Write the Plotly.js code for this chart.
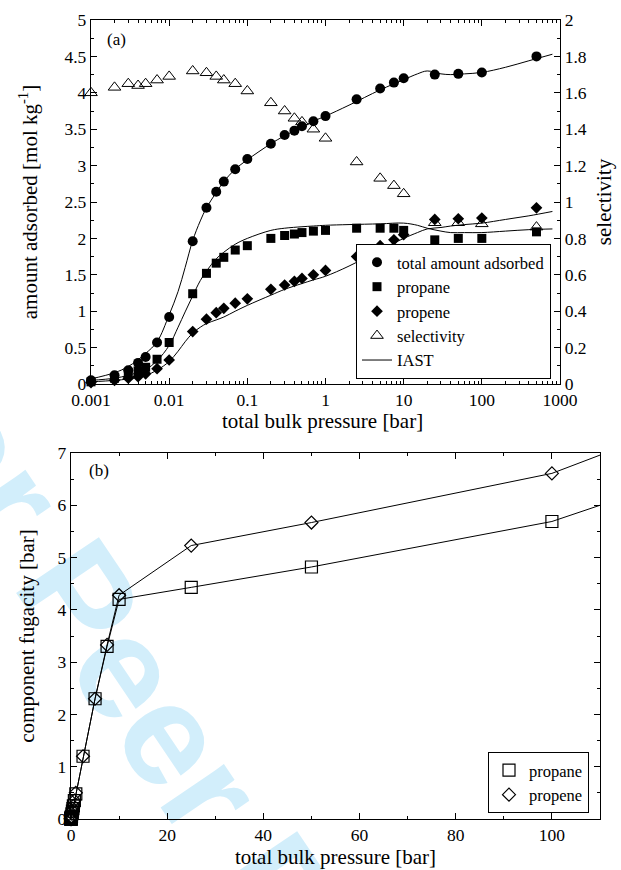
<!DOCTYPE html>
<html>
<head>
<meta charset="utf-8">
<script src="https://cdn.plot.ly/plotly-3.0.1.min.js"></script>
<style>
  html, body { margin: 0; padding: 0; background: #ffffff; }
  #wrap { position: relative; width: 621px; height: 870px; overflow: hidden; }
  #wm { position: absolute; left: 214px; top: 798px; transform: translate(-50%, -50%) rotate(56deg);
        font-family: "Liberation Sans", Arial, sans-serif; font-weight: bold; font-size: 145px; line-height: 1;
        color: #d2eefb; white-space: nowrap; z-index: 0; }
  #plot { position: absolute; left: 0; top: 0; width: 621px; height: 870px; z-index: 1; }
</style>
</head>
<body>
<div id="wrap">
  <div id="wm">For Peer Review</div>
  <div id="plot"></div>
</div>
<script>
// ---------- panel (a): mixture adsorption ----------
const pressure = [0.001,0.002,0.003,0.004,0.005,0.007,0.01,0.02,0.03,0.04,0.05,0.07,0.1,0.2,0.3,0.4,0.5,0.7,1,2.5,5,7.5,10,25,50,100,500];
const totalAdsorbed = [0.05,0.12,0.19,0.29,0.37,0.57,0.92,1.96,2.42,2.64,2.78,2.95,3.09,3.30,3.42,3.48,3.54,3.61,3.68,3.91,4.06,4.14,4.20,4.25,4.26,4.28,4.50];
const propaneAdsorbed = [0.03,0.08,0.13,0.18,0.23,0.34,0.57,1.24,1.52,1.66,1.74,1.84,1.90,2.00,2.04,2.06,2.08,2.10,2.11,2.14,2.14,2.14,2.11,1.98,2.00,2.00,2.09];
const propeneAdsorbed = [0.02,0.05,0.08,0.10,0.14,0.21,0.33,0.72,0.89,0.98,1.04,1.11,1.17,1.30,1.36,1.41,1.45,1.50,1.56,1.75,1.90,1.98,2.05,2.26,2.27,2.28,2.42];
const selectivity = [1.60,1.63,1.65,1.64,1.65,1.67,1.69,1.72,1.71,1.69,1.67,1.65,1.61,1.545,1.50,1.46,1.44,1.40,1.35,1.22,1.13,1.09,1.045,0.886,0.886,0.88,0.862];

// IAST predictions
const iastP = [0.001,0.002,0.003,0.005,0.007,0.01,0.013,0.016,0.02,0.025,0.03,0.04,0.05,0.07,0.1,0.2,0.3,0.5,0.7,1,2,5,10,15,20,30,40,60,100,200,400,800];
const iastTotal = [0.07,0.155,0.24,0.42,0.58,0.95,1.27,1.6,1.97,2.24,2.42,2.63,2.78,2.95,3.08,3.30,3.41,3.53,3.61,3.68,3.83,4.04,4.18,4.26,4.30,4.26,4.25,4.26,4.28,4.35,4.44,4.53];
const iastPropane = [0.05,0.08,0.12,0.2,0.32,0.53,0.78,0.99,1.21,1.42,1.55,1.72,1.81,1.92,2.0,2.11,2.14,2.16,2.17,2.18,2.19,2.20,2.21,2.18,2.14,2.10,2.08,2.08,2.08,2.10,2.12,2.13];
const iastPropene = [0.03,0.05,0.07,0.12,0.19,0.31,0.45,0.58,0.70,0.78,0.83,0.88,0.92,1.0,1.08,1.22,1.30,1.38,1.43,1.48,1.62,1.84,2.0,2.08,2.13,2.15,2.17,2.19,2.21,2.26,2.31,2.37];

// ---------- panel (b): component fugacities ----------
const fugPressure = [0.001,0.002,0.003,0.004,0.005,0.007,0.01,0.02,0.03,0.04,0.05,0.07,0.1,0.2,0.3,0.4,0.5,0.7,1,2.5,5,7.5,10,25,50,100,500];
const fugPropane = [0.0005,0.001,0.0015,0.002,0.0025,0.0035,0.005,0.01,0.015,0.02,0.025,0.035,0.05,0.1,0.15,0.2,0.25,0.35,0.48,1.2,2.3,3.3,4.2,4.43,4.82,5.69,18.1];
const fugPropene = [0.0005,0.001,0.0015,0.002,0.0025,0.0035,0.005,0.01,0.015,0.02,0.025,0.035,0.05,0.1,0.15,0.2,0.25,0.35,0.5,1.2,2.3,3.33,4.28,5.23,5.67,6.61,20.6];

const FONT = '"Liberation Serif", "Times New Roman", Times, serif';
const xMaxB = 110;
const inB = fugPressure.map(p => p <= xMaxB);
const pick = (arr) => arr.filter((v, i) => inB[i]);

const traces = [
  {x: pressure, y: totalAdsorbed, type: 'scatter', mode: 'markers', name: 'total amount adsorbed',
   marker: {symbol: 'circle', size: 10, color: '#000'}, xaxis: 'x', yaxis: 'y', cliponaxis: false, legend: 'legend'},
  {x: pressure, y: propaneAdsorbed, type: 'scatter', mode: 'markers', name: 'propane',
   marker: {symbol: 'square', size: 9, color: '#000'}, xaxis: 'x', yaxis: 'y', cliponaxis: false, legend: 'legend'},
  {x: pressure, y: propeneAdsorbed, type: 'scatter', mode: 'markers', name: 'propene',
   marker: {symbol: 'diamond', size: 9, color: '#000'}, xaxis: 'x', yaxis: 'y', cliponaxis: false, legend: 'legend'},
  {x: pressure, y: selectivity, type: 'scatter', mode: 'markers', name: 'selectivity',
   marker: {symbol: 'triangle-up-open', size: 11, color: '#000', line: {width: 1, color: '#000'}}, xaxis: 'x', yaxis: 'y2', cliponaxis: false, legend: 'legend'},
  {x: iastP, y: iastTotal, type: 'scatter', mode: 'lines', name: 'IAST', line: {color: '#000', width: 1, shape: 'spline'},
   xaxis: 'x', yaxis: 'y', legend: 'legend'},
  {x: iastP, y: iastPropane, type: 'scatter', mode: 'lines', name: 'IAST propane', showlegend: false,
   line: {color: '#000', width: 1, shape: 'spline'}, xaxis: 'x', yaxis: 'y'},
  {x: iastP, y: iastPropene, type: 'scatter', mode: 'lines', name: 'IAST propene', showlegend: false,
   line: {color: '#000', width: 1, shape: 'spline'}, xaxis: 'x', yaxis: 'y'},

  {x: fugPressure, y: fugPropane, type: 'scatter', mode: 'lines', showlegend: false, name: 'propane line',
   line: {color: '#000', width: 1}, xaxis: 'x2', yaxis: 'y3'},
  {x: fugPressure, y: fugPropene, type: 'scatter', mode: 'lines', showlegend: false, name: 'propene line',
   line: {color: '#000', width: 1}, xaxis: 'x2', yaxis: 'y3'},
  {x: pick(fugPressure), y: pick(fugPropane), type: 'scatter', mode: 'markers', name: 'propane',
   marker: {symbol: 'square-open', size: 12, color: '#000', line: {width: 1.2, color: '#000'}},
   xaxis: 'x2', yaxis: 'y3', cliponaxis: false, legend: 'legend2'},
  {x: pick(fugPressure), y: pick(fugPropene), type: 'scatter', mode: 'markers', name: 'propene',
   marker: {symbol: 'diamond-open', size: 10, color: '#000', line: {width: 1.2, color: '#000'}},
   xaxis: 'x2', yaxis: 'y3', cliponaxis: false, legend: 'legend2'}
];

const W = 621, H = 870;
const tickFont = {family: FONT, size: 17.5, color: '#000'};
const titleFont = {family: FONT, size: 21, color: '#000'};
const common = {showline: true, linecolor: '#000', linewidth: 1.2, ticks: 'inside', tickcolor: '#000',
  ticklen: 6, tickwidth: 1, showgrid: false, zeroline: false, tickfont: tickFont, automargin: false};

const layout = {
  width: W, height: H,
  margin: {l: 0, r: 0, t: 0, b: 0},
  paper_bgcolor: 'rgba(0,0,0,0)', plot_bgcolor: 'rgba(0,0,0,0)',
  font: {family: FONT, color: '#000'},
  xaxis: Object.assign({}, common, {
    type: 'log', range: [-3, 3], dtick: 1, exponentformat: 'none', domain: [91 / W, 560 / W], anchor: 'y',
    mirror: 'ticks', minor: {dtick: 'D1', ticks: 'inside', ticklen: 3, tickcolor: '#000'}
  }),
  yaxis: Object.assign({}, common, {
    range: [0, 5], dtick: 0.5, domain: [1 - 384 / H, 1 - 20 / H], anchor: 'x',
    minor: {dtick: 0.25, ticks: 'inside', ticklen: 3, tickcolor: '#000'},
    title: {text: 'amount adsorbed [mol kg<sup>-1</sup>]', font: titleFont, standoff: 21}
  }),
  yaxis2: Object.assign({}, common, {
    range: [0, 2], dtick: 0.2, overlaying: 'y', side: 'right', anchor: 'x',
    minor: {dtick: 0.1, ticks: 'inside', ticklen: 3, tickcolor: '#000'},
    title: {text: 'selectivity', font: titleFont, standoff: 10}
  }),
  xaxis2: Object.assign({}, common, {
    range: [0, xMaxB], dtick: 20, domain: [71 / W, 600 / W], anchor: 'y3', mirror: 'ticks',
    minor: {dtick: 10, ticks: 'inside', ticklen: 3, tickcolor: '#000'},
    title: {text: 'total bulk pressure [bar]', font: titleFont, standoff: 5}
  }),
  yaxis3: Object.assign({}, common, {
    range: [0, 7], dtick: 1, domain: [1 - 819 / H, 1 - 453 / H], anchor: 'x2', mirror: 'ticks',
    minor: {dtick: 0.5, ticks: 'inside', ticklen: 3, tickcolor: '#000'},
    title: {text: 'component fugacity [bar]', font: titleFont, standoff: 17}
  }),
  legend: {x: 551 / W, y: 1 - 379 / H, xanchor: 'right', yanchor: 'bottom', bgcolor: '#fff',
    bordercolor: '#000', borderwidth: 1, font: {family: FONT, size: 16.5, color: '#000'}, tracegroupgap: 0},
  legend2: {x: 589 / W, y: 1 - 813 / H, xanchor: 'right', yanchor: 'bottom', bgcolor: '#fff',
    bordercolor: '#000', borderwidth: 1, font: {family: FONT, size: 16.5, color: '#000'}, tracegroupgap: 0},
  annotations: [
    {text: 'total bulk pressure [bar]', xref: 'paper', yref: 'paper', x: 322 / W, y: 1 - 421 / H,
     xanchor: 'center', yanchor: 'middle', showarrow: false, font: titleFont},
    {text: '(a)', xref: 'paper', yref: 'paper', x: 105 / W, y: 1 - 40 / H, xanchor: 'left', yanchor: 'middle',
     showarrow: false, font: {family: FONT, size: 17, color: '#000'}},
    {text: '(b)', xref: 'paper', yref: 'paper', x: 87 / W, y: 1 - 470 / H, xanchor: 'left', yanchor: 'middle',
     showarrow: false, font: {family: FONT, size: 17, color: '#000'}}
  ]
};

Plotly.newPlot('plot', traces, layout, {displayModeBar: false, staticPlot: true});
</script>
</body>
</html>
